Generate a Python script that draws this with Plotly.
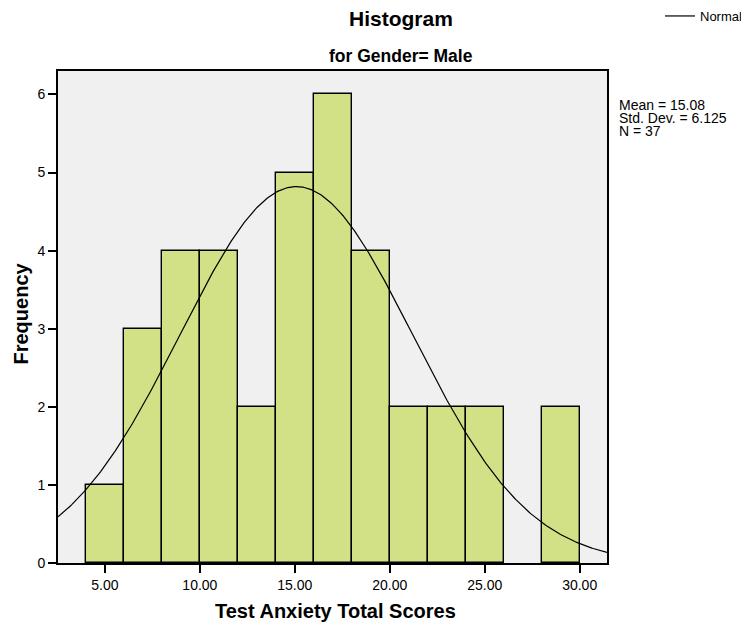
import numpy as np
import plotly.graph_objects as go

# Histogram data (bin edges width 2, starting at 4)
bin_left = [4, 6, 8, 10, 12, 14, 16, 18, 20, 22, 24, 26, 28]
counts = [1, 3, 4, 4, 2, 5, 6, 4, 2, 2, 2, 0, 2]
bin_width = 2

# Summary statistics shown on chart
mean = 15.08
std_dev = 6.125
n = 37

x_tick_vals = [5, 10, 15, 20, 25, 30]
x_tick_text = ["5.00", "10.00", "15.00", "20.00", "25.00", "30.00"]
y_tick_vals = [0, 1, 2, 3, 4, 5, 6]

x_range = [2.53, 31.44]
y_range = [0, 6.30]

# Normal curve scaled to histogram frequency
xs = np.linspace(x_range[0], x_range[1], 400)
ys = n * bin_width / (std_dev * np.sqrt(2 * np.pi)) * np.exp(-0.5 * ((xs - mean) / std_dev) ** 2)

centers = [b + bin_width / 2 for b in bin_left]
edge_widths = [1.4 if c > 0 else 0 for c in counts]

fig = go.Figure()
fig.add_trace(go.Bar(
    x=centers, y=counts, width=bin_width,
    marker=dict(color="#d2e086", line=dict(color="#000000", width=edge_widths)),
    showlegend=False, hoverinfo="skip",
))
fig.add_trace(go.Scatter(
    x=xs, y=ys, mode="lines", name="Normal",
    line=dict(color="#000000", width=1.2),
))

FONT = "Liberation Sans, Arial, sans-serif"
ML, MR, MT, MB = 58, 134, 71, 63
W, H = 741, 626
PH = H - MT - MB
PW = W - ML - MR

def py(ypix):
    return 1 + (MT - ypix) / PH

def px(xpix):
    return (xpix - ML) / PW

stats_lines = [f"Mean = {mean:.2f}", f"Std. Dev. = {std_dev:.3f}", f"N = {n}"]
stats_y = [105, 118, 130.5]

annotations = [
    dict(text="<b>Histogram</b>", xref="paper", yref="paper", x=px(401), y=py(18),
         xanchor="center", yanchor="middle", showarrow=False, font=dict(size=21, family=FONT)),
    dict(text="<b>for Gender= Male</b>", xref="paper", yref="paper", x=px(401), y=py(56),
         xanchor="center", yanchor="middle", showarrow=False, font=dict(size=17.5, family=FONT)),
    dict(text="<b>Test Anxiety Total Scores</b>", xref="paper", yref="paper", x=px(335), y=py(611),
         xanchor="center", yanchor="middle", showarrow=False, font=dict(size=20, family=FONT)),
    dict(text="<b>Frequency</b>", xref="paper", yref="paper", x=px(20), y=py(313.5),
         xanchor="center", yanchor="middle", showarrow=False, textangle=-90,
         font=dict(size=20, family=FONT)),
]
for line, yy in zip(stats_lines, stats_y):
    annotations.append(dict(text=line, xref="paper", yref="paper", x=px(617), y=py(yy),
                            xanchor="left", yanchor="middle", showarrow=False,
                            font=dict(size=14, family=FONT)))

fig.update_layout(
    width=W, height=H,
    margin=dict(l=ML, r=MR, t=MT, b=MB, autoexpand=False),
    paper_bgcolor="#ffffff",
    plot_bgcolor="#f0f0f0",
    font=dict(family=FONT, color="#000000", size=14),
    bargap=0,
    showlegend=True,
    legend=dict(
        x=px(660), y=py(1), xanchor="left", yanchor="top",
        bgcolor="rgba(0,0,0,0)", font=dict(size=13, family=FONT),
        itemwidth=30, tracegroupgap=0,
    ),
    xaxis=dict(
        range=x_range, tickmode="array", tickvals=x_tick_vals, ticktext=x_tick_text,
        ticks="outside", ticklen=8, tickwidth=1.5, tickcolor="#000000",
        showline=True, linecolor="#000000", linewidth=1.6, mirror=True,
        showgrid=False, zeroline=False, automargin=False,
        tickfont=dict(size=14, family=FONT),
    ),
    yaxis=dict(
        range=y_range, tickmode="array", tickvals=y_tick_vals,
        ticks="outside", ticklen=8, tickwidth=1.5, tickcolor="#000000",
        showline=True, linecolor="#000000", linewidth=1.6, mirror=True,
        showgrid=False, zeroline=False, automargin=False,
        tickfont=dict(size=14, family=FONT),
    ),
    annotations=annotations,
)

fig.write_html("out.html")
